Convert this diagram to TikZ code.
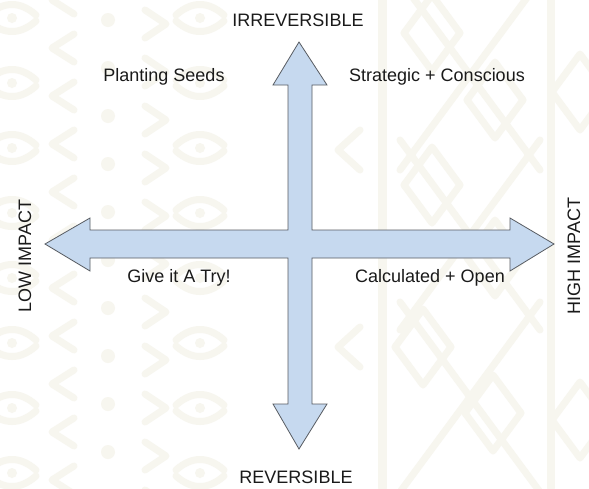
\documentclass[tikz,border=0pt]{standalone}
\usepackage{fontspec}
\setmainfont{Liberation Sans}
\setsansfont{Liberation Sans}
\usepackage{tikz}
\usetikzlibrary{positioning}
\definecolor{mcBlue}{HTML}{C6D9EF}
\definecolor{mcEdge}{HTML}{585C62}
\definecolor{mcCream}{HTML}{F7F6EF}
\definecolor{mcInk}{HTML}{1A1A1A}

\begin{document}
\begin{tikzpicture}[
  x=1pt, y=-1pt, font=\sffamily,
  lbl/.style={text=mcInk, font=\fontsize{18}{21}\selectfont\sffamily, inner sep=0pt},
  sidelbl/.style={lbl, rotate=90},
  motif/.style={draw=mcCream, line width=7pt, line cap=round, line join=round},
  crossarrow/.style={fill=mcBlue, draw=mcEdge, line width=0.8pt, line join=miter},
]
\useasboundingbox[fill=white] (0,0) rectangle (589,488);

% mudcloth background, left half: eyes, chevrons, dots
\begin{scope}[motif]
  \foreach \cx in {12,200}{
    \foreach \cy in {18,83,...,480}{
      \draw (\cx-24,\cy-3) .. controls (\cx-8,\cy-17) and (\cx+8,\cy-17) .. (\cx+24,\cy-3);
      \draw (\cx-24,\cy+3) .. controls (\cx-8,\cy+17) and (\cx+8,\cy+17) .. (\cx+24,\cy+3);
      \fill[mcCream] (\cx,\cy) circle (5);
    }}
  \foreach \cy in {0,48,...,500}{
    \draw (74,\cy-14) -- (52,\cy) -- (74,\cy+14);
    \draw (145,\cy+10) -- (166,\cy+24) -- (145,\cy+38);
    \fill[mcCream] (108,\cy+20) circle (7);
  }
  \draw[line width=4pt, draw=white] (82,0) -- (82,488);
  \draw[line width=4pt, draw=white] (136,0) -- (136,488);
\end{scope}

% mudcloth background, right half: bands, diamonds, lattice
\begin{scope}[motif]
  \draw[line width=9pt] (382,0) -- (382,488);
  \draw[line width=8pt] (551,0) -- (551,488);
  \foreach \dx/\dy in {432/33, 432/185, 423/347, 495/100, 495/258, 493/413, 580/92, 580/420}
    \draw (\dx,\dy-38) -- (\dx+28,\dy) -- (\dx,\dy+38) -- (\dx-28,\dy) -- cycle;
  \foreach \ly in {-60,100,262}{
    \draw (400,\ly+40) -- (540,\ly+230);
    \draw (540,\ly+40) -- (400,\ly+230);
  }
  \foreach \cy in {150,347}{
    \draw (360,\cy-20) -- (338,\cy) -- (360,\cy+20);
  }
\end{scope}

% the two double-headed axes as one outline
\coordinate (mid) at (300,244);
\draw[crossarrow]
  (299,42) -- (327,85) -- (312,85) -- (312,230) -- (510,230) -- (510,218)
  -- (554,244) -- (510,271) -- (510,258) -- (312,258) -- (312,404)
  -- (327,404) -- (299,449) -- (273,404) -- (288,404) -- (288,258)
  -- (90,258) -- (90,271) -- (45,244) -- (90,218) -- (90,230)
  -- (288,230) -- (288,85) -- (273,85) -- cycle;

% axis ends
\node[lbl] (irrev) at (298,20) {IRREVERSIBLE};
\node[lbl] (rev) at (296,477) {REVERSIBLE};
\node[sidelbl] (low) at (25,256) {LOW IMPACT};
\node[sidelbl] (high) at (574,256) {HIGH IMPACT};

% quadrants
\node[lbl] (seeds) at (164,77) {Planting Seeds};
\node[lbl] (strat) at (437,77) {Strategic + Conscious};
\node[lbl] (try) at (179,278) {Give it A Try!};
\node[lbl] (calc) at (430,278) {Calculated + Open};
\end{tikzpicture}
\end{document}
